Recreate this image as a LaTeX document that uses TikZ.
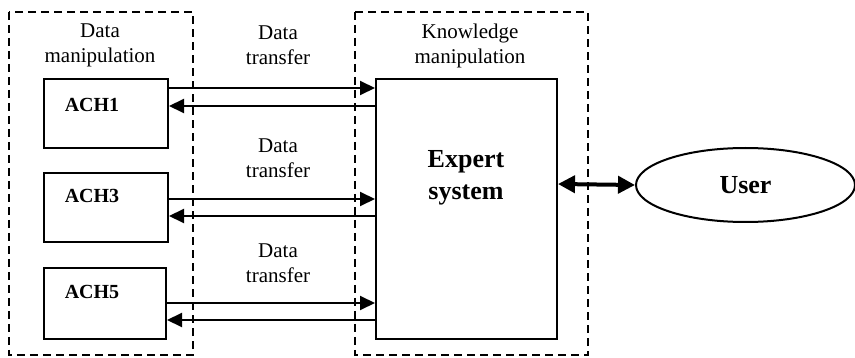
\documentclass[tikz,border=0pt]{standalone}
\usepackage{fontspec}
\setmainfont{Liberation Serif}
\usetikzlibrary{arrows.meta,shapes.geometric}
\begin{document}
\begin{tikzpicture}[x=1pt,y=-1pt,
        box/.style={draw,line width=2pt,inner sep=0pt},
        grp/.style={draw,line width=2pt,dash pattern=on 8pt off 5pt},
        txt/.style={align=center,font=\fontsize{21}{25}\selectfont},
        achtxt/.style={font=\fontsize{20}{25}\selectfont\bfseries},
        bigtxt/.style={align=center,font=\fontsize{26}{32}\selectfont\bfseries},
        flow/.style={line width=2pt,-{Triangle[length=15pt,width=14pt]}}]
        \useasboundingbox (0,0) rectangle (855,358);
        \draw[grp] (9,12) rectangle (193,355);
        \draw[grp] (355,12) rectangle (588,355);
        \node[txt] (dm) at (100,45) {Data\\manipulation};
        \node[txt] (km) at (470,46) {Knowledge\\manipulation};
        \node[box,minimum width=124pt,minimum height=69pt] (ach1) at (106,113.5) {};
        \node[box,minimum width=124pt,minimum height=69pt] (ach3) at (106,207.5) {};
        \node[box,minimum width=122pt,minimum height=71pt] (ach5) at (105,303.5) {};
        \node[achtxt] (l1) at (92,105) {ACH1};
        \node[achtxt] (l3) at (92,196) {ACH3};
        \node[achtxt] (l5) at (92,292) {ACH5};
        \node[box,minimum width=181pt,minimum height=260pt] (expert) at (466.5,209) {};
        \node[bigtxt] (es) at (466,178) {Expert\\system};
        \node[box,ellipse,minimum width=219pt,minimum height=74pt,font=\fontsize{26}{32}\selectfont\bfseries] (user) at (745.5,185) {User};
        \node[txt] (t1) at (278,45) {Data\\transfer};
        \node[txt] (t3) at (278,158) {Data\\transfer};
        \node[txt] (t5) at (278,263) {Data\\transfer};
        \draw[flow] (ach1.east |- 0,88) -- (expert.west |- 0,88);
        \draw[flow] (expert.west |- 0,106) -- (ach1.east |- 0,106);
        \draw[flow] (ach3.east |- 0,199) -- (expert.west |- 0,199);
        \draw[flow] (expert.west |- 0,216) -- (ach3.east |- 0,216);
        \draw[flow] (ach5.east |- 0,303) -- (expert.west |- 0,303);
        \draw[flow] (expert.west |- 0,320) -- (ach5.east |- 0,320);
        \draw[line width=4pt,{Triangle[length=17pt,width=17pt]}-{Triangle[length=17pt,width=17pt]}] (expert.east |- 0,184) -- (user.west);
\end{tikzpicture}
\end{document}
